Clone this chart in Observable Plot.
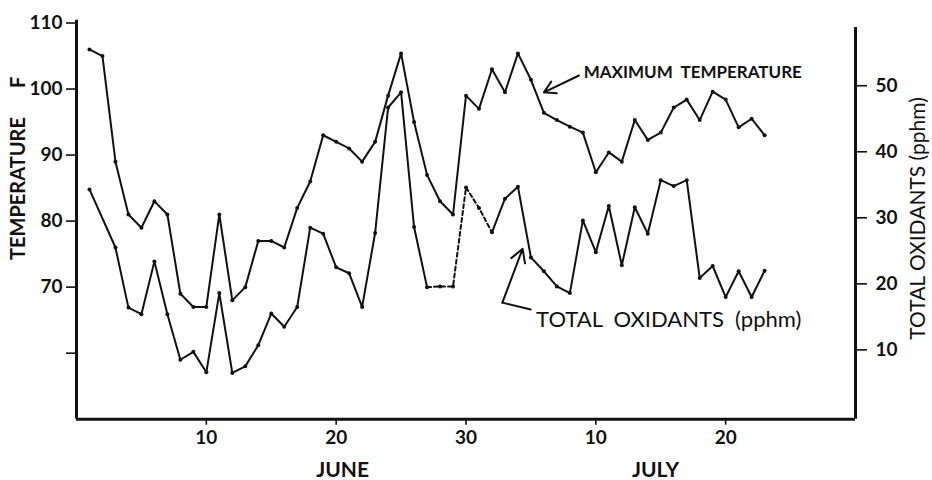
<!DOCTYPE html>
<html><head><meta charset="utf-8">
<script src="https://cdn.jsdelivr.net/npm/d3@7"></script>
<script src="https://cdn.jsdelivr.net/npm/@observablehq/plot@0.6"></script>
<style>html,body{margin:0;padding:0;background:#fff}#chart svg{display:block}</style>
</head><body><div id="chart"></div>
<script>
// Day index: June d = d, July d = 30 + d
const tempDays = [1,2,3,4,5,6,7,8,9,10,11,12,13,14,15,16,17,18,19,20,21,22,23,24,25,26,27,28,29,30,31,32,33,34,35,36,37,38,39,40,41,42,43,44,45,46,47,48,49,50,51,52,53];
const maxTemp = [106,105,89,81,79,83,81,69,67,67,
                 81,68,70,77,77,76,82,86,93,92,
                 91,89,92,99,105.4,95,87,83,81,99,
                 97,103,99.5,105.4,101.4,96.4,95.3,94.3,93.4,87.4,
                 90.4,89,95.3,92.3,93.4,97.2,98.4,95.3,99.6,98.4,
                 94.2,95.5,93];
const oxDays = [1,3,4,5,6,7,8,9,10,11,12,13,14,15,16,17,18,19,20,21,22,23,24,25,26,27,28,29,30,31,32,33,34,35,36,37,38,39,40,41,42,43,44,45,46,47,48,49,50,51,52,53];
const oxidants = [34.3,25.5,16.4,15.4,23.4,15.4,8.5,9.7,6.6,
                  18.6,6.5,7.5,10.7,15.5,13.5,16.5,28.5,27.6,22.5,
                  21.6,16.5,27.7,46.7,49,28.6,19.5,19.6,19.6,34.6,
                  31.5,27.8,32.9,34.7,24,21.9,19.6,18.6,29.6,24.8,
                  31.8,22.8,31.6,27.6,35.7,34.8,35.7,20.9,22.7,18,
                  21.9,18,22];
const dashedFrom = 27, dashedTo = 32;   // estimated stretch drawn dashed
const xTicks = [10,20,30,40,50];
const xTickLabels = ["10","20","30","10","20"];
const tempTicks = [60,70,80,90,100,110];
const tempTickLabels = ["","70","80","90","100","110"];
const oxTicks = [10,20,30,40,50];
const months = ["JUNE","JULY"];
const monthCenters = [20.5,44.6];
const OX_OFFSET = 50.5; // right-axis zero sits at this temperature

const tempLabelPos = {x:39.06, y:102.5};
const oxLabelPos = {x:35.4, y:65.0};
const tempArrow = [{x1:38.7,y1:102.05,x2:36.0,y2:99.5}];
const oxLeader = [{x:34.98,y:66.6},{x:32.8,y:67.65}];
const oxArrow = [{x1:32.8,y1:67.65,x2:34.36,y2:75.8}];

const tempRows = tempDays.map((d,i)=>({day:d,v:maxTemp[i]}));
const oxRows = oxDays.map((d,i)=>({day:d,v:oxidants[i]+OX_OFFSET,seg:d<=dashedFrom?"a":"b"}));
const solidOx = oxRows.filter(d=>d.day<=dashedFrom||d.day>=dashedTo);
const dashedOx = oxRows.filter(d=>d.day>=dashedFrom&&d.day<=dashedTo);

const font = "Lato, 'DejaVu Sans', sans-serif";
const chart = Plot.plot({
  width:932, height:480,
  marginLeft:76, marginRight:77, marginTop:22.5, marginBottom:61.3,
  style:{fontFamily:font, color:"#111", background:"#fff"},
  x:{domain:[0,60]},
  y:{domain:[50,110]},
  marks:[
    Plot.ruleX([0],{y1:50,y2:110.4,strokeWidth:3,stroke:"#111"}),
    Plot.ruleX([60],{y1:50,y2:109.3,strokeWidth:3,stroke:"#111"}),
    Plot.ruleY([50],{x1:0,x2:60,strokeWidth:3,stroke:"#111"}),
    Plot.axisY({anchor:"left",ticks:tempTicks,tickFormat:d=>tempTickLabels[tempTicks.indexOf(d)],tickSize:10,tickPadding:4,fontSize:19,fontWeight:"bold",strokeWidth:1.6,label:null}),
    Plot.axisY({anchor:"right",ticks:oxTicks.map(o=>o+OX_OFFSET),tickFormat:()=>"",tickSize:11,strokeWidth:1.6,label:null}),
    Plot.text(oxTicks,{y:o=>o+OX_OFFSET,text:d=>String(d),frameAnchor:"right",dx:20,textAnchor:"start",fontSize:19,fontWeight:"bold"}),
    Plot.axisX({ticks:xTicks,tickFormat:d=>xTickLabels[xTicks.indexOf(d)],tickSize:6,tickPadding:5,fontSize:19,fontWeight:"bold",strokeWidth:1.6,label:null}),
    Plot.text(months,{x:(d,i)=>monthCenters[i],frameAnchor:"bottom",lineAnchor:"middle",dy:51,fontSize:21,fontWeight:"bold"}),
    Plot.text(["TEMPERATURE\u00a0\u00a0\u00a0\u00a0\u00a0\u00a0F"],{frameAnchor:"left",y:[88],dx:-58,rotate:-90,textAnchor:"middle",lineAnchor:"middle",fontSize:20,fontWeight:"bold"}),
    Plot.text(["TOTAL OXIDANTS (pphm)"],{frameAnchor:"right",y:[80.4],dx:63,rotate:-90,textAnchor:"middle",lineAnchor:"middle",fontSize:21}),
    Plot.line(tempRows,{x:"day",y:"v",stroke:"#111",strokeWidth:2}),
    Plot.dot(tempRows,{x:"day",y:"v",r:2,fill:"#111"}),
    Plot.line(solidOx,{x:"day",y:"v",z:"seg",stroke:"#111",strokeWidth:2}),
    Plot.line(dashedOx,{x:"day",y:"v",stroke:"#111",strokeWidth:2,strokeDasharray:"4,3"}),
    Plot.dot(oxRows,{x:"day",y:"v",r:2,fill:"#111"}),
    Plot.text(["MAXIMUM\u00a0\u00a0TEMPERATURE"],{x:[tempLabelPos.x],y:[tempLabelPos.y],textAnchor:"start",fontSize:17,fontWeight:"bold"}),
    Plot.arrow(tempArrow,{x1:"x1",y1:"y1",x2:"x2",y2:"y2",bend:0,headLength:11,strokeWidth:2,stroke:"#111"}),
    Plot.text(["TOTAL\u00a0\u00a0OXIDANTS\u00a0\u00a0(pphm)"],{x:[oxLabelPos.x],y:[oxLabelPos.y],textAnchor:"start",fontSize:22}),
    Plot.line(oxLeader,{x:"x",y:"y",stroke:"#111",strokeWidth:2}),
    Plot.arrow(oxArrow,{x1:"x1",y1:"y1",x2:"x2",y2:"y2",bend:0,headLength:11,strokeWidth:2,stroke:"#111"})
  ]
});
document.getElementById("chart").appendChild(chart);
</script>
</body></html>
